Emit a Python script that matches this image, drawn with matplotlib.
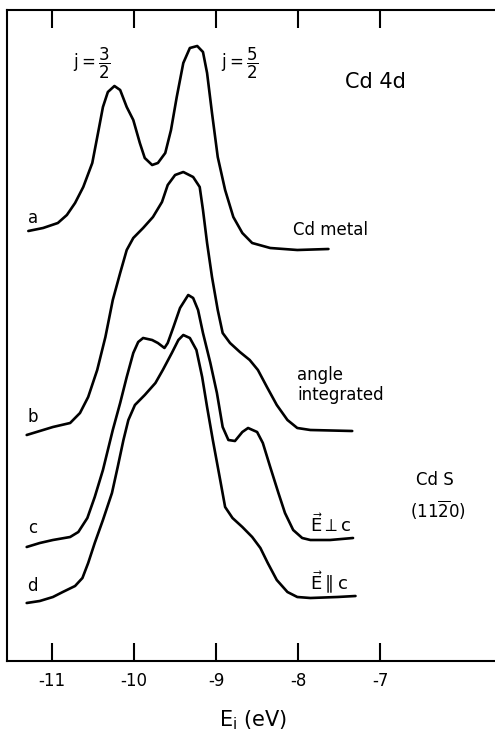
import numpy as np
import matplotlib
matplotlib.use("Agg")
import matplotlib.pyplot as plt

# Cd 4d photoemission spectra: energy (eV) vs intensity (arb. units, curves offset)
a_energy = [-11.29, -11.11, -10.93, -10.82, -10.72, -10.62, -10.51, -10.44, -10.38, -10.32,
            -10.24, -10.17, -10.09, -10.01, -9.93, -9.87, -9.78, -9.71, -9.62, -9.55,
            -9.48, -9.40, -9.32, -9.23, -9.16, -9.11, -9.05, -8.98, -8.89, -8.79,
            -8.68, -8.56, -8.34, -8.01, -7.63]
a_int = [430, 433, 438, 446, 458, 474, 498, 528, 554, 569,
         575, 571, 554, 541, 518, 503, 496, 498, 508, 531,
         564, 598, 613, 615, 609, 588, 548, 504, 471, 444,
         428, 418, 413, 411, 412]

b_energy = [-11.31, -11.15, -10.99, -10.78, -10.66, -10.56, -10.45, -10.35, -10.26, -10.17,
            -10.09, -10.01, -9.89, -9.77, -9.66, -9.59, -9.50, -9.40, -9.28, -9.20,
            -9.16, -9.11, -9.05, -8.98, -8.92, -8.83, -8.71, -8.59, -8.49, -8.38,
            -8.26, -8.13, -8.01, -7.85, -7.34]
b_int = [226, 230, 234, 238, 248, 264, 291, 324, 361, 388,
         411, 423, 433, 444, 459, 476, 486, 489, 484, 474,
         451, 418, 384, 351, 328, 318, 309, 301, 291, 274,
         256, 241, 233, 231, 230]

c_energy = [-11.31, -11.15, -10.99, -10.78, -10.68, -10.57, -10.48, -10.38, -10.26, -10.17,
            -10.09, -10.01, -9.95, -9.89, -9.78, -9.71, -9.63, -9.59, -9.52, -9.44,
            -9.34, -9.28, -9.22, -9.16, -9.07, -8.99, -8.92, -8.85, -8.77, -8.68,
            -8.61, -8.50, -8.43, -8.34, -8.24, -8.16, -8.06, -7.95, -7.85, -7.61,
            -7.33]
c_int = [114, 118, 121, 124, 129, 143, 164, 191, 231, 258,
         284, 308, 319, 323, 321, 318, 313, 318, 334, 353,
         366, 363, 351, 328, 298, 268, 234, 221, 220, 229,
         233, 229, 218, 194, 168, 148, 131, 123, 121, 121,
         123]

d_energy = [-11.31, -11.15, -10.99, -10.87, -10.72, -10.63, -10.56, -10.48, -10.38, -10.27,
            -10.20, -10.13, -10.07, -9.99, -9.87, -9.74, -9.65, -9.54, -9.46, -9.40,
            -9.32, -9.24, -9.17, -9.11, -9.04, -8.95, -8.89, -8.80, -8.68, -8.56,
            -8.46, -8.37, -8.26, -8.13, -8.01, -7.85, -7.52, -7.30]
d_int = [58, 60, 64, 69, 75, 83, 98, 118, 141, 168,
         194, 221, 241, 256, 266, 278, 291, 308, 321, 326,
         323, 311, 284, 254, 221, 181, 154, 143, 134, 124,
         113, 98, 81, 69, 64, 63, 64, 65]

ticks = [-11, -10, -9, -8, -7]

fig = plt.figure(figsize=(4.95, 7.4), dpi=100)
ax = fig.add_axes([7 / 495, 79 / 740, 493 / 495, 651 / 740])

for xs, ys in [(a_energy, a_int), (b_energy, b_int), (c_energy, c_int), (d_energy, d_int)]:
    ax.plot(xs, ys, color="black", lw=1.9, solid_capstyle="round", solid_joinstyle="round")

ax.set_xlim(-11.55, -11.55 + 493 / 82)
ax.set_ylim(0, 651)
ax.set_xticks(ticks)
ax.set_xticklabels([str(t) for t in ticks])
ax.set_yticks([])
ax.tick_params(axis="x", direction="in", length=13, width=1.5, top=True,
               labelsize=12, pad=8)
for s in ax.spines.values():
    s.set_linewidth(1.5)

fs = 12
ax.text(-11.23, 443, "a", fontsize=fs, ha="center", va="center")
ax.text(-11.24, 244, "b", fontsize=fs, ha="center", va="center")
ax.text(-11.24, 133, "c", fontsize=fs, ha="center", va="center")
ax.text(-11.24, 75, "d", fontsize=fs, ha="center", va="center")

ax.text(-10.52, 598, r"j$=\dfrac{3}{2}$", fontsize=12, ha="center", va="center")
ax.text(-8.71, 598, r"j$=\dfrac{5}{2}$", fontsize=12, ha="center", va="center")
ax.text(-7.43, 579, "Cd 4d", fontsize=15, ha="left", va="center")
ax.text(-8.06, 431, "Cd metal", fontsize=fs, ha="left", va="center")
ax.text(-8.01, 276, "angle\nintegrated", fontsize=fs, ha="left", va="center",
        linespacing=1.1)
ax.text(-6.33, 181, "Cd S", fontsize=fs, ha="center", va="center")
ax.text(-6.30, 151, r"$\mathrm{(11\overline{2}0)}$", fontsize=fs, ha="center", va="center")
ax.text(-7.85, 136, r"$\vec{\mathrm{E}}\perp\mathrm{c}$", fontsize=13, ha="left", va="center")
ax.text(-7.85, 78, r"$\vec{\mathrm{E}}\parallel\mathrm{c}$", fontsize=13, ha="left", va="center")

ax.set_xlabel(r"E$_\mathrm{i}$ (eV)", fontsize=15, labelpad=13)

fig.savefig("out.png", dpi=100)
